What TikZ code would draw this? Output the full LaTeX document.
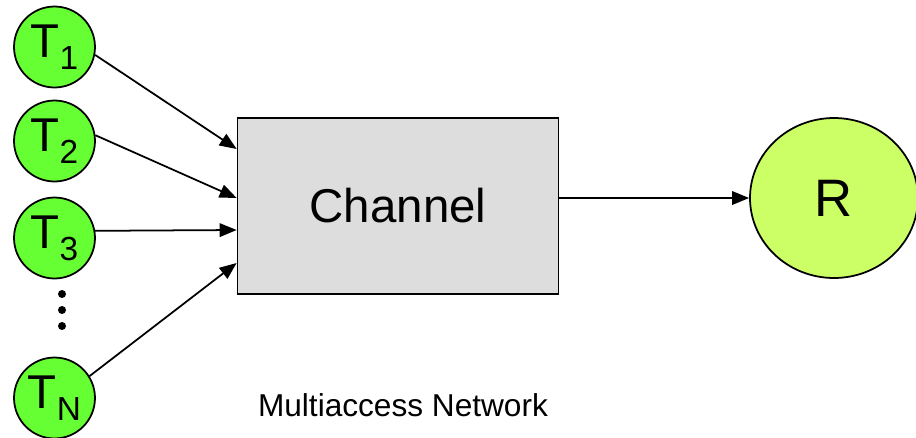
\documentclass[tikz,border=0pt]{standalone}
\usepackage{fontspec}
\setmainfont{Liberation Sans}
\usetikzlibrary{arrows.meta, positioning, shapes.geometric}

\definecolor{termgreen}{HTML}{66FF33}
\definecolor{rxgreen}{HTML}{CCFF66}
\definecolor{chgray}{HTML}{DDDDDD}

% terminal label with a low, large subscript
\newcommand{\tlabel}[1]{T\raisebox{-7pt}{\fontsize{19}{19}\selectfont #1}}

\begin{document}
\begin{tikzpicture}[x=0.02cm, y=-0.02cm, line width=1pt,
    term/.style={circle, draw, fill=termgreen, minimum size=1.62cm, inner sep=0pt,
                 font=\fontsize{27}{27}\selectfont},
    arr/.style={-{Triangle[length=0.34cm, width=0.27cm]}}]
    \useasboundingbox (0,0) rectangle (916,437);

    % terminals
    \node[term] (t1) at (54.5,47)  {\tlabel{1}};
    \node[term] (t2) at (54.5,141) {\tlabel{2}};
    \node[term] (t3) at (54.5,238) {\tlabel{3}};
    \node[term] (tN) at (54.5,398) {\tlabel{N}};
    \foreach \y in {294,310,326}
        \fill (62,\y) circle (4);

    % channel and receiver
    \node[draw, fill=chgray, minimum width=6.42cm, minimum height=3.52cm,
          font=\fontsize{27}{27}\selectfont] (ch) at (398,206) {Channel};
    \node[ellipse, draw, fill=rxgreen, minimum width=3.36cm, minimum height=3.2cm,
          inner sep=0pt, font=\fontsize{30}{30}\selectfont] (rx) at (834,198) {R};
    \node[font=\fontsize{18}{18}\selectfont] (cap) at (403,405) {Multiaccess Network};

    % inputs on the channel
    \coordinate (in1) at (ch.west |- 0,149);
    \coordinate (in2) at (ch.west |- 0,198);
    \coordinate (in3) at (ch.west |- 0,230);
    \coordinate (inN) at (ch.west |- 0,263);

    \draw[arr] (t1.-11) -- (in1);
    \draw[arr] (t2.8)   -- (in2);
    \draw[arr] (t3.10)  -- (in3);
    \draw[arr] (tN.32)  -- (inN);
    \draw[arr] (ch.east |- rx.west) -- (rx.west);
\end{tikzpicture}
\end{document}
